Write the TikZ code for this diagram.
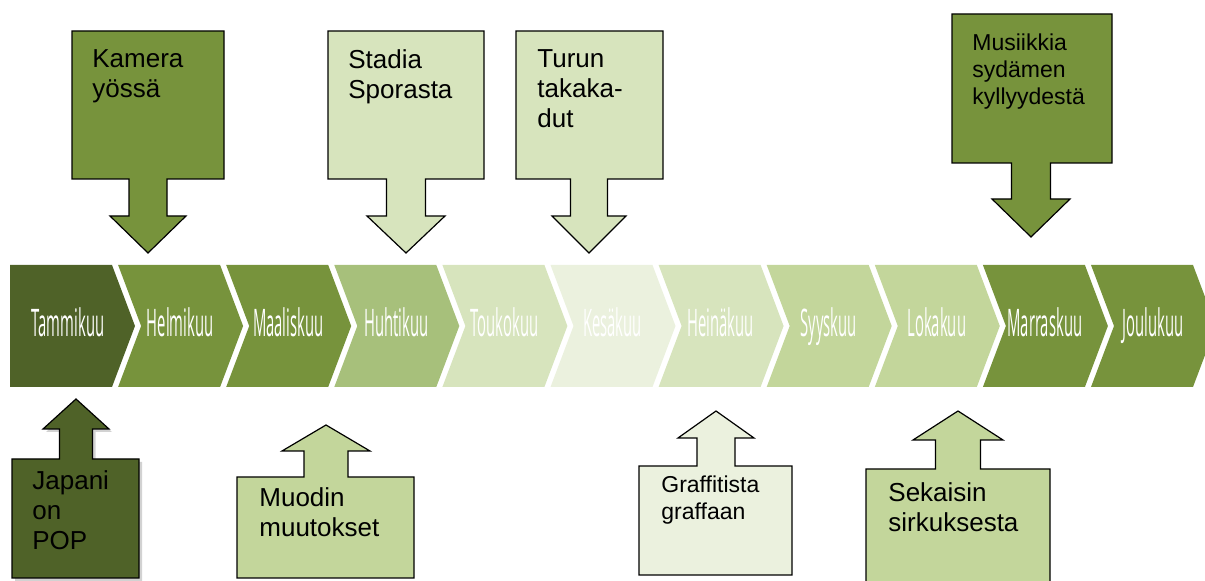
\documentclass[tikz,border=0pt]{standalone}
\usepackage{fontspec}
\setmainfont{Liberation Sans}
\newfontfamily\monthfont[FakeStretch=0.39]{Open Sans}
\usepackage{xcolor}
\usetikzlibrary{positioning}

\definecolor{olivedark}{HTML}{4F6228}
\definecolor{olivemid}{HTML}{77933C}
\definecolor{oliveapr}{HTML}{A7C07B}
\definecolor{olivelight}{HTML}{C3D69B}
\definecolor{olivepale}{HTML}{D7E4BD}
\definecolor{olivefaint}{HTML}{EBF1DE}

% box with an arrow: style, tip x, box left, box right, far edge y, near edge y, stem half width, head base y, tip y
\newcommand{\calloutshape}[9]{%
  \path[#1] (#3,#5) -- (#4,#5) -- (#4,#6) -- (#2+#7,#6) -- (#2+#7,#8) -- (#2+2*#7,#8)
    -- (#2,#9) -- (#2-2*#7,#8) -- (#2-#7,#8) -- (#2-#7,#6) -- (#3,#6) -- cycle;}

\begin{document}
\begin{tikzpicture}[
  x=0.5pt, y=-0.5pt,
  month/.style={text=white, anchor=base, inner sep=0pt, font=\monthfont\fontsize{19}{19}\selectfont},
  callout/.style={draw=black, line width=0.6pt},
  note/.style={anchor=north west, inner sep=0pt, align=left, text=black, font=\fontsize{13}{15}\selectfont},
  smallnote/.style={note, font=\fontsize{11.5}{13.5}\selectfont},
]
\useasboundingbox (0,0) rectangle (1205,581);
% timeline chevrons
\foreach \mon/\col [count=\i from 0] in {Tammikuu/olivedark, Helmikuu/olivemid, Maaliskuu/olivemid,
    Huhtikuu/oliveapr, Toukokuu/olivepale, Kesäkuu/olivefaint, Heinäkuu/olivepale,
    Syyskuu/olivelight, Lokakuu/olivelight, Marraskuu/olivemid, Joulukuu/olivemid}{
  \pgfmathsetmacro{\x}{10+108.1*\i}
  \pgfmathsetmacro{\nd}{\i>0 ? 23 : 0}
  \pgfmathsetmacro{\cx}{\x+(\i>0 ? 62 : 58)}
  \fill[\col] (\x,265) -- (\x+102,265) -- (\x+125,326) -- (\x+102,387) -- (\x,387) -- (\x+\nd,326) -- cycle;
  \node[month] (m\i) at (\cx,337) {\mon};
}
% callouts above the timeline
\calloutshape{callout, fill=olivemid}{148}{72}{224}{31}{179}{19}{216}{253}
\calloutshape{callout, fill=olivepale}{406}{328}{484}{31}{179}{19.5}{216}{253}
\calloutshape{callout, fill=olivepale}{589}{516}{663}{31}{179}{18.5}{216}{253}
\calloutshape{callout, fill=olivemid}{1031}{952}{1112}{14}{163}{19.5}{199}{237}
\node[note] (kamera) at (92,49) {Kamera\\yössä};
\node[note] (stadia) at (348,49) {Stadia\\Sporasta};
\node[note] (turku) at (537,49) {Turun\\takaka-\\dut};
\node[smallnote] (musiikki) at (972,33) {Musiikkia\\sydämen\\kyllyydestä};
% callouts below the timeline
\calloutshape{fill=black!35, opacity=0.5, shift={(3,3)}}{76}{12}{139}{578}{459}{16.5}{429}{399}
\calloutshape{callout, fill=olivedark}{76}{12}{139}{578}{459}{16.5}{429}{399}
\calloutshape{callout, fill=olivelight}{326}{237}{414}{578}{477}{22}{451}{425}
\calloutshape{callout, fill=olivefaint}{716}{639}{792}{575}{466}{19}{438}{411}
\calloutshape{callout, fill=olivelight}{958}{866}{1050}{595}{469}{22.5}{440}{411}
\node[note] (japani) at (32,470) {Japani\\on\\POP};
\node[note] (muoti) at (259,487) {Muodin\\muutokset};
\node[smallnote] (graffiti) at (661,475) {Graffitista\\graffaan};
\node[note] (sirkus) at (888,482) {Sekaisin\\sirkuksesta};
\end{tikzpicture}
\end{document}
